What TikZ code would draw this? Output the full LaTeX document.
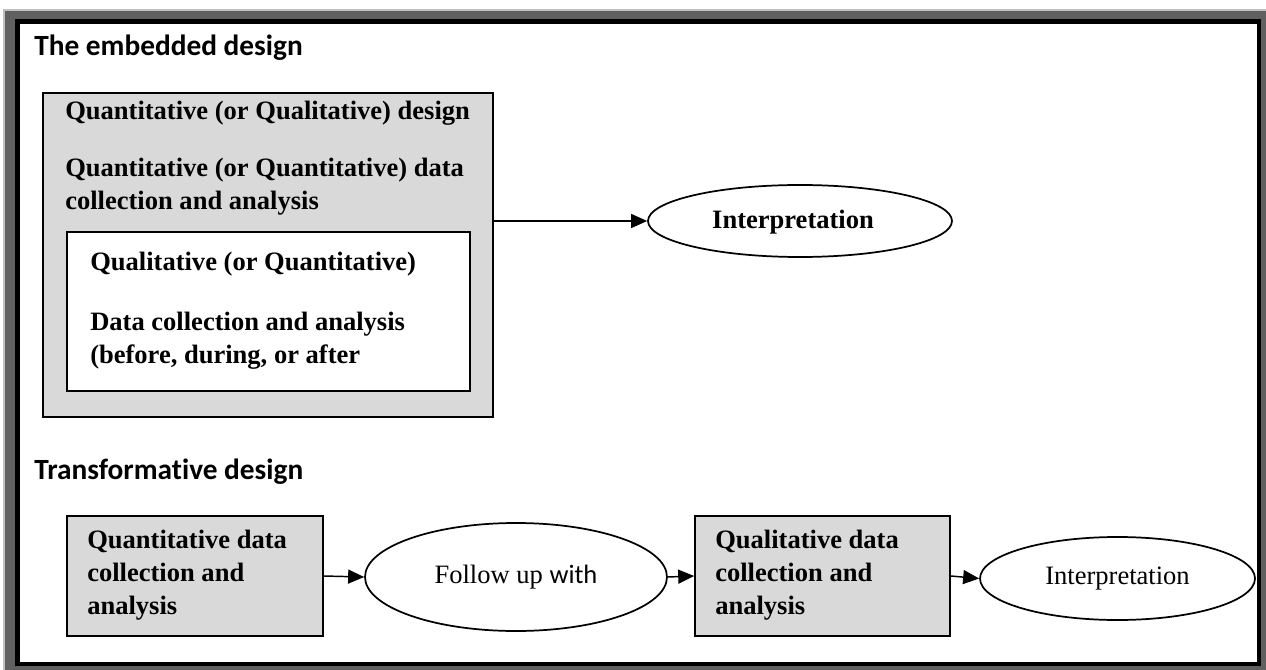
\documentclass[tikz,border=0pt]{standalone}
\usepackage{fontspec}
\setmainfont{Liberation Serif}
\newfontfamily\headfont[Ligatures=NoCommon]{Carlito}
\usetikzlibrary{arrows.meta,shapes.geometric}
\definecolor{boxgray}{HTML}{D9D9D9}
\definecolor{framedark}{HTML}{606060}
\definecolor{framelight}{HTML}{C0C0C0}
\begin{document}
\begin{tikzpicture}[x=0.75pt,y=-0.75pt,
  heading/.style={anchor=base west,inner sep=0pt,font=\headfont\bfseries\fontsize{22pt}{26pt}\selectfont},
  txt/.style={anchor=base west,inner sep=0pt,font=\bfseries\fontsize{19.9pt}{24pt}\selectfont},
  graybox/.style={draw=black,line width=1.2pt,fill=boxgray,inner sep=0pt},
  whitebox/.style={draw=black,line width=1.2pt,fill=white,inner sep=0pt},
  oval/.style={ellipse,draw=black,line width=1.3pt,fill=white,inner sep=0pt},
  arr/.style={line width=1.1pt,-{Triangle[length=12pt,width=10.5pt]}}]
\useasboundingbox (0,0) rectangle (1266,670);
% page frame
\fill[framelight] (3,9) rectangle (1266,670);
\fill[framedark] (5,11) rectangle (1266,670);
\fill[black] (15,19) rectangle (1261,666);
\fill[white] (20,24) rectangle (1257,662);

% embedded design
\node[heading] (h1) at (34,56) {The embedded design};
\node[graybox,minimum width=337.5pt,minimum height=243pt] (embed) at (268,255) {};
\node[txt] (e1) at (65,120) {Quantitative (or Qualitative) design};
\node[txt] (e2) at (65,177) {Quantitative (or Quantitative) data};
\node[txt] (e3) at (65,210) {collection and analysis};
\node[whitebox,minimum width=302.25pt,minimum height=119.25pt] (inner) at (268.5,311.5) {};
\node[txt] (i1) at (90,271) {Qualitative (or Quantitative)};
\node[txt] (i2) at (90,330) {Data collection and analysis};
\node[txt] (i3) at (90,363) {(before, during, or after};
\node[oval,minimum width=228pt,minimum height=54pt] (interp) at (800,221) {};
\node[txt,anchor=center] (interptxt) at (793,222) {Interpretation};
\draw[arr] (embed.east |- interp.west) -- (interp.west);

% transformative design
\node[heading] (h2) at (34,479) {Transformative design};
\node[graybox,minimum width=192pt,minimum height=90pt] (quan) at (195,576) {};
\node[txt] (q1) at (87,548) {Quantitative data};
\node[txt] (q2) at (87,581) {collection and};
\node[txt] (q3) at (87,614) {analysis};
\node[oval,minimum width=226.5pt,minimum height=81pt,font=\fontsize{19.9pt}{24pt}\selectfont] (follow) at (516,577) {Follow up {\headfont with}};
\node[graybox,minimum width=191.25pt,minimum height=90pt] (qual) at (822.5,576) {};
\node[txt] (l1) at (715,548) {Qualitative data};
\node[txt] (l2) at (715,581) {collection and};
\node[txt] (l3) at (715,614) {analysis};
\node[oval,minimum width=206.25pt,minimum height=62.25pt,font=\fontsize{19.9pt}{24pt}\selectfont] (interp2) at (1117.5,578.5) {Interpretation};
\draw[arr] (quan.east) -- (follow.west);
\draw[arr] (follow.east) -- (qual.west);
\draw[arr] (qual.east) -- (interp2.west);
\end{tikzpicture}
\end{document}
